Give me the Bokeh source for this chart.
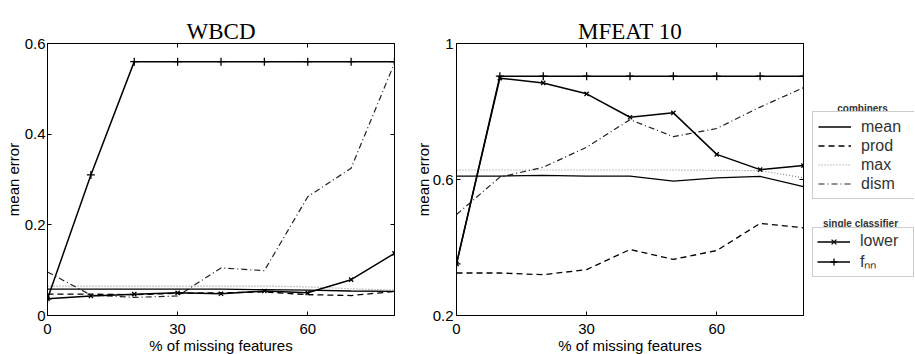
from bokeh.plotting import figure
from bokeh.layouts import row
from bokeh.models import (ColumnDataSource, Range1d, FixedTicker, LinearAxis,
                          Legend, LegendItem, Label)
from bokeh.embed import file_html
from bokeh.resources import INLINE

# ---------------- data ----------------
missing = [0, 10, 20, 30, 40, 50, 60, 70, 80]

wbcd_mean = [0.058, 0.058, 0.058, 0.058, 0.058, 0.057, 0.056, 0.054, 0.053]
wbcd_prod = [0.047, 0.047, 0.046, 0.049, 0.050, 0.052, 0.046, 0.044, 0.053]
wbcd_max = [0.065, 0.065, 0.065, 0.065, 0.065, 0.065, 0.063, 0.059, 0.056]
wbcd_dism = [0.096, 0.045, 0.040, 0.043, 0.105, 0.099, 0.262, 0.325, 0.557]
wbcd_lower = [0.037, 0.043, 0.047, 0.050, 0.048, 0.054, 0.050, 0.079, 0.137]
wbcd_fnn = [0.037, 0.310, 0.560, 0.560, 0.560, 0.560, 0.560, 0.560, 0.560]

mfeat_mean = [0.610, 0.610, 0.612, 0.610, 0.610, 0.595, 0.605, 0.609, 0.579]
mfeat_prod = [0.325, 0.325, 0.320, 0.335, 0.394, 0.365, 0.391, 0.471, 0.458]
mfeat_max = [0.628, 0.628, 0.628, 0.628, 0.628, 0.628, 0.627, 0.626, 0.605]
mfeat_dism = [0.497, 0.607, 0.636, 0.695, 0.776, 0.726, 0.750, 0.813, 0.870]
mfeat_lower = [0.352, 0.898, 0.884, 0.852, 0.783, 0.796, 0.674, 0.629, 0.641]
mfeat_fnn = [0.352, 0.904, 0.904, 0.904, 0.904, 0.904, 0.904, 0.904, 0.904]

x_ticks = [0, 30, 60]
wbcd_y_ticks = [0, 0.2, 0.4, 0.6]
wbcd_y_labels = ["0", "0.2", "0.4", "0.6"]
mfeat_y_ticks = [0.2, 0.6, 1.0]
mfeat_y_labels = ["0.2", "0.6", "1"]

combiner_names = ["mean", "prod", "max", "dism"]
single_names = ["lower", "f\u2099\u2099"]
legend_titles = ["combiners", "single classifier"]

SANS = "Liberation Sans"
SERIF = "Liberation Serif"

STYLE = {
    "max": dict(line_color="#8a8a8a", line_width=1.2, line_dash="1 2"),
    "prod": dict(line_color="black", line_width=1.3, line_dash="6 4"),
    "dism": dict(line_color="#222222", line_width=1.2, line_dash="6 3 1 3"),
    "mean": dict(line_color="black", line_width=1.3),
    "lower": dict(line_color="black", line_width=1.5),
    "fnn": dict(line_color="black", line_width=1.5),
}

FRAME_H = 272
TOP_B = 43
BOT_B = 39


def add_series(p, src):
    r = {}
    for key in ["max", "prod", "dism", "mean", "lower", "fnn"]:
        r[key] = p.line("x", key, source=src, **STYLE[key])
    r["lower_m"] = p.scatter("x", "lower", source=src, marker="x", size=6,
                             line_color="black", line_width=1.3)
    r["fnn_m"] = p.scatter("x", "fnn", source=src, marker="cross", size=8,
                           line_color="black", line_width=1.3)
    return r


def tick_only_axis(ticks):
    return LinearAxis(ticker=FixedTicker(ticks=ticks),
                      major_label_overrides={t: "" for t in ticks},
                      major_label_text_font_size="1px",
                      major_label_standoff=0, major_tick_in=4, major_tick_out=0,
                      minor_tick_line_color=None, axis_line_color="black",
                      major_tick_line_color="black")


def spacer_axis(gap):
    # draws nothing; only reserves `gap` pixels between the frame's top ticks and the title
    return LinearAxis(ticker=FixedTicker(ticks=[]), major_tick_in=0, major_tick_out=gap,
                      major_tick_line_color=None, minor_tick_line_color=None,
                      axis_line_color=None, major_label_text_font_size="1px")


def make_panel(title, src, y_lo, y_hi, y_ticks, y_labels, b_left, b_right,
               ytick_standoff, ylab_standoff):
    p = figure(frame_width=347, frame_height=FRAME_H,
               min_border_left=b_left, min_border_right=b_right,
               min_border_top=TOP_B, min_border_bottom=BOT_B,
               x_range=Range1d(0, 80), y_range=Range1d(y_lo, y_hi),
               output_backend="svg", toolbar_location=None, title=title)
    p.title.align = "center"
    p.title.text_font = SERIF
    p.title.text_font_size = "23px"
    p.title.text_font_style = "normal"
    p.title.text_color = "black"
    p.title.standoff = 0
    p.xgrid.visible = False
    p.ygrid.visible = False
    p.outline_line_color = "black"
    p.outline_line_width = 1
    p.background_fill_color = "white"
    p.border_fill_color = "white"

    xa = p.below[0]
    xa.ticker = FixedTicker(ticks=x_ticks)
    xa.axis_label = "% of missing features"
    xa.axis_label_text_font = SANS
    xa.axis_label_text_font_size = "15px"
    xa.axis_label_text_font_style = "normal"
    xa.major_label_text_font = SANS
    xa.major_label_text_font_size = "15px"
    xa.major_label_standoff = 8
    xa.axis_label_standoff = 0

    ya = p.left[0]
    ya.ticker = FixedTicker(ticks=y_ticks)
    ya.major_label_overrides = dict(zip(y_ticks, y_labels))
    ya.axis_label = "mean error"
    ya.axis_label_text_font = SANS
    ya.axis_label_text_font_size = "15px"
    ya.axis_label_text_font_style = "normal"
    ya.major_label_text_font = SANS
    ya.major_label_text_font_size = "15px"
    ya.major_label_standoff = ytick_standoff
    ya.axis_label_standoff = ylab_standoff

    for ax in (xa, ya):
        ax.major_tick_in = 4
        ax.major_tick_out = 0
        ax.minor_tick_line_color = None
        ax.axis_line_color = "black"
        ax.major_tick_line_color = "black"
        ax.major_label_text_color = "black"
        ax.axis_label_text_color = "black"

    p.add_layout(tick_only_axis(x_ticks), "above")
    p.add_layout(spacer_axis(12), "above")
    p.add_layout(tick_only_axis(y_ticks), "right")

    add_series(p, src)
    return p


wbcd_src = ColumnDataSource(dict(x=missing, mean=wbcd_mean, prod=wbcd_prod, max=wbcd_max,
                                 dism=wbcd_dism, lower=wbcd_lower, fnn=wbcd_fnn))
mfeat_src = ColumnDataSource(dict(x=missing, mean=mfeat_mean, prod=mfeat_prod, max=mfeat_max,
                                  dism=mfeat_dism, lower=mfeat_lower, fnn=mfeat_fnn))

p1 = make_panel("WBCD", wbcd_src, 0, 0.6, wbcd_y_ticks, wbcd_y_labels, 47, 16, 2, 0)
p2 = make_panel("MFEAT 10", mfeat_src, 0.2, 1.0, mfeat_y_ticks, mfeat_y_labels, 46, 3, 3, -2)

# ---------------- legend panel ----------------
p3 = figure(frame_width=108, frame_height=FRAME_H, min_border_left=0, min_border_right=0,
            min_border_top=TOP_B, min_border_bottom=BOT_B,
            x_range=Range1d(-2, -1), y_range=Range1d(0, 1),
            x_axis_type=None, y_axis_type=None,
            output_backend="svg", toolbar_location=None)
p3.outline_line_color = None
p3.border_fill_color = "white"
p3.background_fill_color = "white"
p3.xgrid.visible = False
p3.ygrid.visible = False
lr = add_series(p3, mfeat_src)  # lies outside this panel's ranges; only feeds the legend glyphs

legend_style = dict(spacing=0, glyph_width=33, label_standoff=10, label_width=49,
                    label_text_font=SANS, label_text_font_size="16px", label_text_color="#333333",
                    border_line_color="#999999", border_line_width=1,
                    background_fill_color="white", background_fill_alpha=1.0, margin=0)

leg1 = Legend(items=[LegendItem(label=combiner_names[0], renderers=[lr["mean"]]),
                     LegendItem(label=combiner_names[1], renderers=[lr["prod"]]),
                     LegendItem(label=combiner_names[2], renderers=[lr["max"]]),
                     LegendItem(label=combiner_names[3], renderers=[lr["dism"]])],
              location=(6, 116), padding=5, label_height=19, glyph_height=19, **legend_style)
leg2 = Legend(items=[LegendItem(label=single_names[0], renderers=[lr["lower"], lr["lower_m"]]),
                     LegendItem(label=single_names[1], renderers=[lr["fnn"], lr["fnn_m"]])],
              location=(6, 38), padding=4, label_height=17, glyph_height=17, **legend_style)
p3.add_layout(leg1, "center")
p3.add_layout(leg2, "center")

p3.add_layout(Label(x=56, y=207, x_units="screen", y_units="screen", text=legend_titles[0],
                    text_font=SANS, text_font_size="10px", text_font_style="bold",
                    text_color="#333333", text_align="center", text_baseline="middle"))
p3.add_layout(Label(x=54, y=92, x_units="screen", y_units="screen", text=legend_titles[1],
                    text_font=SANS, text_font_size="10px", text_font_style="bold",
                    text_color="#333333", text_align="center", text_baseline="middle"))

layout = row(p1, p2, p3)
open("out.html", "w").write(file_html(layout, INLINE))
